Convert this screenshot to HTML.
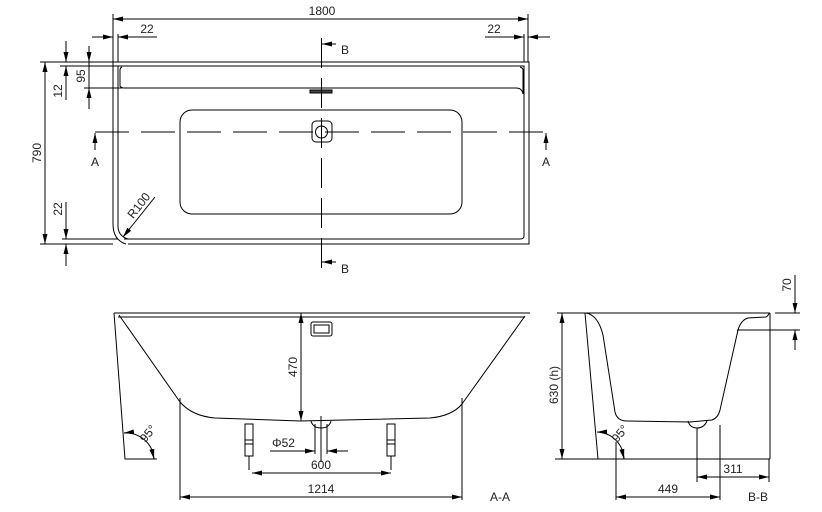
<!DOCTYPE html>
<html><head><meta charset="utf-8"><style>
html,body{margin:0;padding:0;background:#fff;}
svg{display:block;}
text{font-family:"Liberation Sans",sans-serif;font-size:12px;fill:#222;}
</style></head><body>
<svg width="822" height="512" viewBox="0 0 822 512" xmlns="http://www.w3.org/2000/svg">
<defs>
<marker id="a" viewBox="0 0 10 6" refX="10" refY="3" markerWidth="10" markerHeight="6" orient="auto-start-reverse" markerUnits="userSpaceOnUse"><path d="M0,0.5L10,3L0,5.5z" fill="#000"/></marker>
</defs>
<g stroke="#000" stroke-width="1" fill="none">
<!-- TOP VIEW -->
<path d="M113,62H529V244H128"/>
<path d="M113,62V224Q113,240 126,244"/>
<path d="M118,66H524V236Q524,239 520,239H124"/>
<path d="M118,66V226Q118,236 128,239"/>
<path d="M122,67Q120,68 120,70V86Q121,88 124,88H516Q522,88 523,94V70Q523,68 520,67"/>
<rect x="180" y="110" width="282" height="104" rx="12"/>
<rect x="310" y="90" width="22" height="3" fill="#444"/>
<rect x="312" y="121" width="20" height="21" rx="4"/>
<circle cx="321.5" cy="132" r="6"/>
<path d="M95,132H548" stroke-dasharray="34,12"/>
<path d="M321.5,38V272" stroke-dasharray="30,10"/>
<path d="M336,44H322" marker-end="url(#a)"/>
<path d="M336,262H322" marker-end="url(#a)"/>
<path d="M95,150V133" marker-end="url(#a)"/>
<path d="M546,150V133" marker-end="url(#a)"/>
<!-- 1800 -->
<path d="M113,14V62M528,14V62"/>
<path d="M113,19H528" marker-start="url(#a)" marker-end="url(#a)"/>
<path d="M118,34V62M524,34V62"/>
<path d="M92,37H113" marker-end="url(#a)"/>
<path d="M140,37H118" marker-end="url(#a)"/>
<path d="M118,37H157"/>
<path d="M500,37H524" marker-end="url(#a)"/>
<path d="M550,37H528" marker-end="url(#a)"/>
<path d="M485,37H500"/>
<!-- 790 -->
<path d="M40,62H113M40,244H113"/>
<path d="M45,62V244" marker-start="url(#a)" marker-end="url(#a)"/>
<!-- 12 -->
<path d="M60,66H118"/>
<path d="M66,41V62" marker-end="url(#a)"/>
<path d="M66,86V66" marker-end="url(#a)"/>
<path d="M66,66V100"/>
<!-- 95 -->
<path d="M84,88H122"/>
<path d="M89,46V62" marker-end="url(#a)"/>
<path d="M89,104V88" marker-end="url(#a)"/>
<path d="M89,62V109"/>
<!-- 22 bottom -->
<path d="M62,239H118"/>
<path d="M66,202V239" marker-end="url(#a)"/>
<path d="M66,266V244" marker-end="url(#a)"/>
<!-- R100 -->
<path d="M155,197L123,237" marker-end="url(#a)"/>
<!-- SECTION A-A -->
<path d="M114,313H530M118,317H525"/>
<path d="M114,313L125,459H157"/>
<path d="M119,315L180,402Q192,416 215,418L300,421L430,418Q452,416 462,404L525,316"/>
<path d="M301,313V421" marker-start="url(#a)" marker-end="url(#a)"/>
<rect x="311" y="322" width="21" height="14" rx="2"/>
<rect x="314" y="325" width="15" height="8"/>
<path d="M311,421Q313,428 321,428Q329,428 331,421"/>
<path d="M321,416V462M315,424V454M327,424V454"/>
<rect x="245" y="424" width="8" height="32"/>
<rect x="387" y="424" width="8" height="32"/>
<path d="M245,440H253M245,444H253M387,440H395M387,444H395"/>
<path d="M249,456V470M391,456V470"/>
<path d="M270,451H315" marker-end="url(#a)"/>
<path d="M348,451H327" marker-end="url(#a)"/>
<path d="M252,473H391" marker-start="url(#a)" marker-end="url(#a)"/>
<path d="M180,398V500M462,398V500"/>
<path d="M180,497H462" marker-start="url(#a)" marker-end="url(#a)"/>
<path d="M124,433A28,28 0 0 1 154,459" />
<path d="M133,432L124,433" marker-end="url(#a)"/>
<path d="M152,450L154,459" marker-end="url(#a)"/>
<!-- SECTION B-B -->
<path d="M557,313H584M584,313H770"/>
<path d="M585,313L598,459"/>
<path d="M555,459H770"/>
<path d="M586,313Q598,315 603,335L615,412Q617,421 627,421L690,422L712,420Q718,418 720,410L738,330Q741,320 748,318L766,317Q769,315 769,313"/>
<path d="M770,313V459"/>
<path d="M562,313V459" marker-start="url(#a)" marker-end="url(#a)"/>
<path d="M688,421Q690,428 697,428Q704,428 707,421"/>
<path d="M697,428V482"/>
<path d="M775,313H800M737,330H800"/>
<path d="M795,275V313" marker-end="url(#a)"/>
<path d="M795,350V330" marker-end="url(#a)"/>
<path d="M697,477H769" marker-start="url(#a)" marker-end="url(#a)"/>
<path d="M769,459V482"/>
<path d="M616,442V500M720,425V500"/>
<path d="M616,497H720" marker-start="url(#a)" marker-end="url(#a)"/>
<path d="M597,432A28,28 0 0 1 624,459"/>
<path d="M606,432L597,432" marker-end="url(#a)"/>
<path d="M622,450L624,459" marker-end="url(#a)"/>
</g>
<text x="322" y="15" text-anchor="middle">1800</text>
<text x="147" y="33" text-anchor="middle">22</text>
<text x="494" y="33" text-anchor="middle">22</text>
<text x="341" y="54" font-size="16">B</text>
<text x="341" y="273" font-size="16">B</text>
<text x="95" y="166" text-anchor="middle" font-size="14">A</text>
<text x="546" y="166" text-anchor="middle" font-size="14">A</text>
<text transform="translate(41,153) rotate(-90)" text-anchor="middle">790</text>
<text transform="translate(62,91) rotate(-90)" text-anchor="middle">12</text>
<text transform="translate(85,76) rotate(-90)" text-anchor="middle">95</text>
<text transform="translate(62,209) rotate(-90)" text-anchor="middle">22</text>
<text transform="translate(142,208) rotate(-52)" text-anchor="middle">R100</text>
<text transform="translate(297,367) rotate(-90)" text-anchor="middle">470</text>
<text x="272" y="447">Φ52</text>
<text x="321" y="469" text-anchor="middle">600</text>
<text x="321" y="493" text-anchor="middle">1214</text>
<text x="140" y="440" transform="rotate(-50,146,436)" font-size="11">95°</text>
<text x="490" y="501" font-size="14">A-A</text>
<text transform="translate(558,385) rotate(-90)" text-anchor="middle">630 (h)</text>
<text transform="translate(791,285) rotate(-90)" text-anchor="middle">70</text>
<text x="733" y="473" text-anchor="middle">311</text>
<text x="668" y="493" text-anchor="middle">449</text>
<text x="612" y="440" transform="rotate(-50,618,436)" font-size="11">95°</text>
<text x="748" y="501" font-size="14">B-B</text>
</svg>
</body></html>
